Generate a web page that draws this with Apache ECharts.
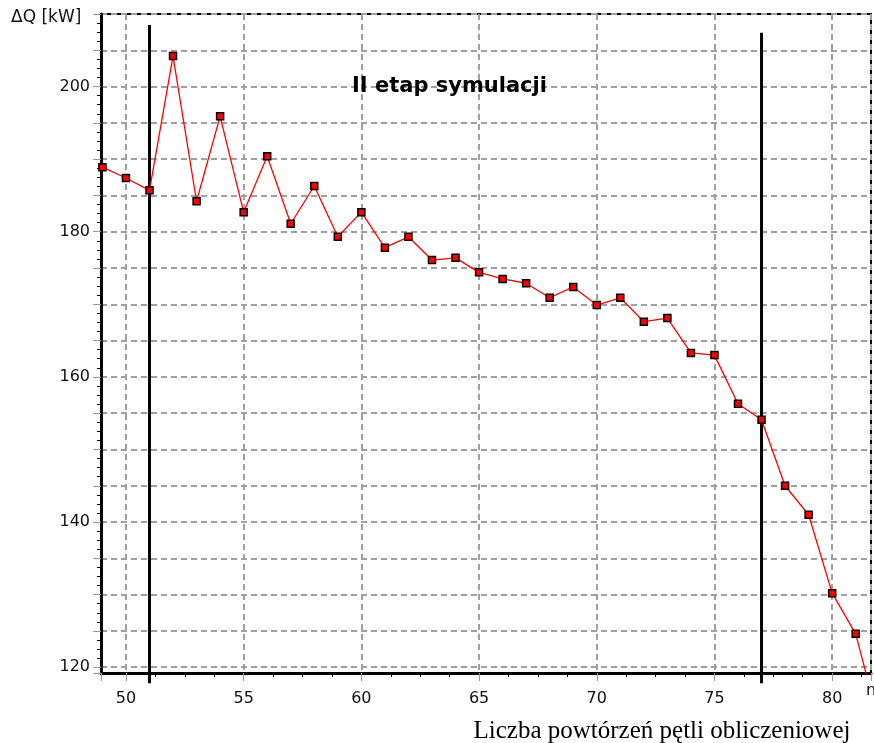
<!DOCTYPE html>
<html>
<head>
<meta charset="utf-8">
<script src="https://cdn.jsdelivr.net/npm/echarts@6/dist/echarts.min.js"></script>
<style>
  html, body { margin: 0; padding: 0; background: #fff; }
  #chart { width: 874px; height: 743px; }
</style>
</head>
<body>
<div id="chart"></div>
<script>
// loop iteration number
const iterations = [49, 50, 51, 52, 53, 54, 55, 56, 57, 58, 59, 60, 61, 62, 63, 64, 65,
  66, 67, 68, 69, 70, 71, 72, 73, 74, 75, 76, 77, 78, 79, 80, 81, 82];
// ΔQ [kW]
const deltaQ = [188.9, 187.4, 185.7, 204.2, 184.2, 195.9, 182.7, 190.4, 181.1, 186.3,
  179.3, 182.7, 177.8, 179.3, 176.1, 176.4, 174.4, 173.5, 172.9, 170.9, 172.4, 169.9,
  170.9, 167.6, 168.1, 163.3, 163.0, 156.3, 154.1, 145.0, 141.0, 130.2, 124.6, 112.2];

// vertical lines marking the stage
const stageLimits = [51, 77];
const stageLineTop = [208.5, 207.4];
const stageLineBottom = 117.8;

const xTickLabels = [50, 55, 60, 65, 70, 75, 80];
const yTickLabels = [120, 140, 160, 180, 200];

const chart = echarts.init(document.getElementById("chart"));

const gridLine = { color: "#a0a0a0", width: 2, type: [6, 4] };
const labelFont = { fontFamily: "DejaVu Sans", fontSize: 16, color: "#111" };

const option = {
  animation: false,
  grid: {
    show: true,
    left: 101,
    right: 2,
    top: 14,
    bottom: 70,
    borderColor: "#000",
    borderWidth: 2,
  },
  title: {
    text: "II etap symulacji",
    left: 347,
    top: 71,
    textStyle: { fontFamily: "DejaVu Sans", fontWeight: "bold", fontSize: 21, color: "#000" },
  },
  graphic: [
    {
      type: "text",
      left: 11,
      top: 9,
      style: { text: "ΔQ [kW]", font: "17px 'DejaVu Sans'", fill: "#111" },
    },
    {
      type: "text",
      left: 866,
      top: 683,
      style: { text: "n", font: "16px 'DejaVu Sans'", fill: "#111" },
    },
    {
      type: "text",
      x: 662,
      y: 731,
      style: {
        text: "Liczba powtórzeń pętli obliczeniowej",
        font: "25px 'Liberation Serif'",
        fill: "#000",
        align: "center",
        verticalAlign: "middle",
      },
    },
  ],
  xAxis: {
    type: "value",
    min: 48.94,
    max: 81.65,
    splitNumber: 6,
    axisLine: { onZero: false, lineStyle: { color: "#000", width: 3 } },
    axisTick: { length: 8, lineStyle: { color: "#999", width: 1 } },
    minorTick: { show: true, splitNumber: 4, length: 4, lineStyle: { color: "#000", width: 1 } },
    axisLabel: {
      ...labelFont,
      margin: 18,
      formatter: (v) => (xTickLabels.includes(v) ? String(v) : ""),
    },
    splitLine: { show: true, lineStyle: gridLine },
  },
  yAxis: {
    type: "value",
    min: 119.2,
    max: 210,
    splitNumber: 18,
    axisLine: { onZero: false, lineStyle: { color: "#000", width: 3 } },
    axisTick: { length: 8, lineStyle: { color: "#999", width: 1 } },
    minorTick: { show: true, splitNumber: 4, length: 4, lineStyle: { color: "#000", width: 1 } },
    axisLabel: {
      ...labelFont,
      margin: 11,
      formatter: (v) => (yTickLabels.includes(v) ? String(v) : ""),
    },
    splitLine: { show: true, lineStyle: gridLine },
  },
  series: [
    ...stageLimits.map((x, i) => ({
      type: "line",
      data: [[x, stageLineTop[i]], [x, stageLineBottom]],
      symbol: "none",
      clip: false,
      silent: true,
      z: 2,
      lineStyle: { color: "#000", width: 3 },
    })),
    {
      name: "ΔQ",
      type: "line",
      data: iterations.map((x, i) => [x, deltaQ[i]]),
      symbol: "rect",
      symbolSize: 7,
      clip: true,
      z: 3,
      lineStyle: { color: "#ff0000", width: 1.3 },
      itemStyle: { color: "#ff0000", borderColor: "#000", borderWidth: 1.5 },
    },
  ],
};

chart.setOption(option);
</script>
</body>
</html>
